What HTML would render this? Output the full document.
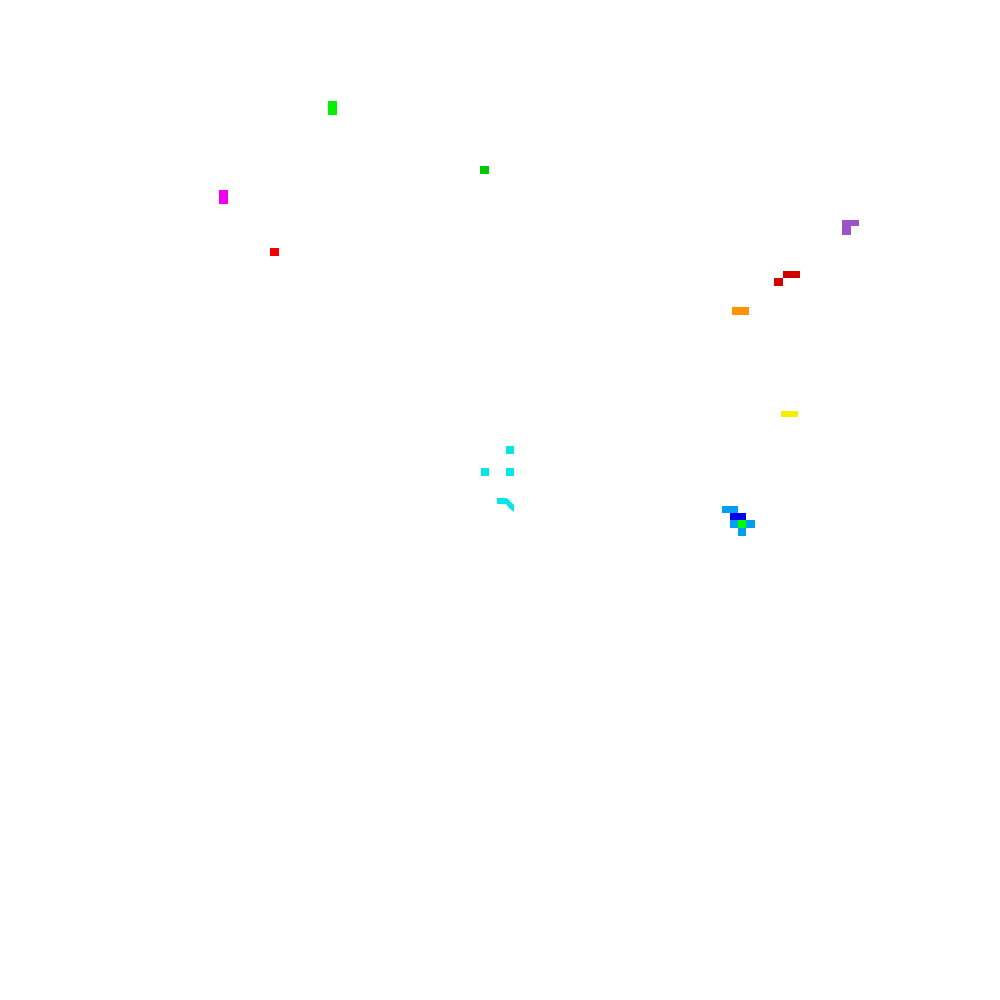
<!DOCTYPE html><html><head><style>
body{margin:0;width:1000px;height:1000px;background:#fff;position:relative;overflow:hidden}
div{position:absolute}
</style></head><body>
<div style="left:328px;top:101px;width:9px;height:14px;background:#00f000"></div>
<div style="left:480px;top:166px;width:9px;height:8px;background:#00c800"></div>
<div style="left:219px;top:190px;width:9px;height:14px;background:#f000f0"></div>
<div style="left:270px;top:248px;width:9px;height:8px;background:#f00000"></div>
<div style="left:842px;top:220px;width:17px;height:6px;background:#9b55c8"></div>
<div style="left:842px;top:226px;width:9px;height:9px;background:#9b55c8"></div>
<div style="left:783px;top:271px;width:17px;height:7px;background:#d20000"></div>
<div style="left:774px;top:278px;width:9px;height:8px;background:#d20000"></div>
<div style="left:732px;top:307px;width:17px;height:8px;background:#ff9400"></div>
<div style="left:781px;top:411px;width:17px;height:6px;background:#f0f000"></div>
<div style="left:506px;top:446px;width:8px;height:8px;background:#05e6e6"></div>
<div style="left:481px;top:468px;width:8px;height:8px;background:#05e6e6"></div>
<div style="left:506px;top:468px;width:8px;height:8px;background:#05e6e6"></div>
<svg style="position:absolute;left:0;top:0" width="1000" height="1000"><polygon points="497,498 507,498 514,505 514,512 509,508 506,504 497,504" fill="#05e6e6"/></svg>
<div style="left:722px;top:506px;width:16px;height:7px;background:#00a0f0"></div>
<div style="left:730px;top:513px;width:16px;height:7px;background:#0000ee"></div>
<div style="left:730px;top:520px;width:8px;height:8px;background:#00a0f0"></div>
<div style="left:738px;top:520px;width:8px;height:8px;background:#00ff00"></div>
<div style="left:746px;top:520px;width:9px;height:8px;background:#00a0f0"></div>
<div style="left:738px;top:528px;width:8px;height:8px;background:#00a0f0"></div>
</body></html>
